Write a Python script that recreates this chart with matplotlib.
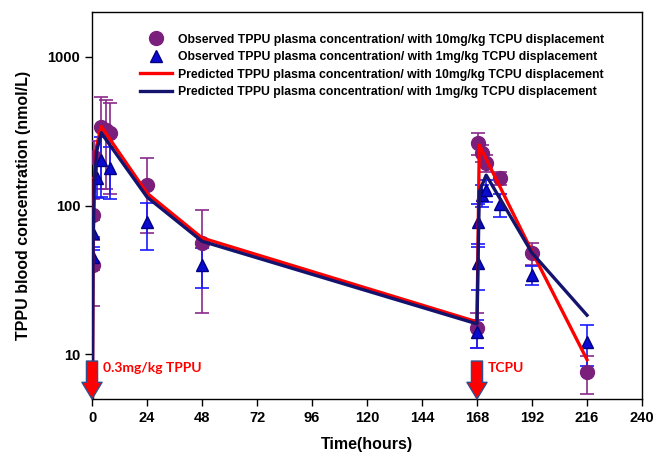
import matplotlib
matplotlib.use("Agg")
import matplotlib.pyplot as plt
from matplotlib.lines import Line2D
from matplotlib.ticker import NullLocator, FixedLocator, FixedFormatter

plt.rcParams['font.family'] = ['Liberation Sans', 'DejaVu Sans']
plt.rcParams['font.weight'] = 'bold'

# observed, 10 mg/kg TCPU displacement (purple circles)
t_obs10 = [0.25, 0.5, 1, 4, 6, 8, 24, 48, 168, 168.5, 170, 172, 178, 192, 216]
c_obs10 = [40, 86, 212, 335, 320, 305, 137, 56, 15, 262, 225, 193, 152, 48, 7.6]
e_obs10 = [19, 25, 60, 205, 190, 185, 72, 37, 4, 45, 30, 25, 15, 8, 2.2]

# observed, 1 mg/kg TCPU displacement (blue triangles)
t_obs1 = [0.25, 0.5, 2, 4, 8, 24, 48, 168, 168.25, 168.5, 170, 172, 178, 192, 216]
c_obs1 = [45, 65, 153, 202, 179, 77, 40, 14, 41, 78, 118, 127, 102, 34, 12]
e_obs1 = [8, 15, 40, 88, 68, 27, 12, 3, 14, 25, 20, 22, 18, 5, 3.7]

# predicted curves
t_pred10 = [0, 0.5, 1, 2, 4, 24, 48, 168, 169, 192, 216]
c_pred10 = [1, 60, 150, 250, 340, 121, 60.5, 16.5, 255, 49, 9.2]
t_pred1 = [0, 0.5, 1, 2, 4, 24, 48, 168, 169, 172, 192, 216]
c_pred1 = [1, 55, 135, 230, 308, 114, 57.5, 16, 124, 160, 48, 18.3]

dose_times = [0, 168]
dose_labels = ["0.3mg/kg TPPU", "TCPU"]

x_ticks = [0, 24, 48, 72, 96, 120, 144, 168, 192, 216, 240]
y_ticks = [10, 100, 1000]

labels = ['Observed TPPU plasma concentration/ with 10mg/kg TCPU displacement',
          'Observed TPPU plasma concentration/ with 1mg/kg TCPU displacement',
          'Predicted TPPU plasma concentration/ with 10mg/kg TCPU displacement',
          'Predicted TPPU plasma concentration/ with 1mg/kg TCPU displacement']

fig = plt.figure(figsize=(6.56, 4.62), dpi=100)
ax = fig.add_axes([92 / 656, 1 - 399 / 462, 550 / 656, 387 / 462])
ax.set_yscale('log')

purple = '#7b1f7d'
blue = '#0a0ad0'
red = '#ff0000'
navy = '#14146e'

ax.errorbar(t_obs10, c_obs10, yerr=e_obs10, fmt='o', ms=10, color=purple,
            mfc=purple, mec=purple, ecolor='#8a2a8a', elinewidth=1.2,
            capsize=5, capthick=1.2, zorder=3)
ax.errorbar(t_obs1, c_obs1, yerr=e_obs1, fmt='^', ms=9, color=blue,
            mfc=blue, mec='#000080', ecolor='#1a1aff', elinewidth=1.2,
            capsize=5, capthick=1.2, zorder=3)
ax.plot(t_pred10, c_pred10, color=red, lw=2.4, zorder=4)
ax.plot(t_pred1, c_pred1, color=navy, lw=2.4, zorder=4)

ax.set_xlim(0, 240)
ax.set_ylim(5, 2000)
ax.xaxis.set_major_locator(FixedLocator(x_ticks))
ax.yaxis.set_major_locator(FixedLocator(y_ticks))
ax.yaxis.set_major_formatter(FixedFormatter([str(v) for v in y_ticks]))
ax.yaxis.set_minor_locator(NullLocator())
ax.tick_params(direction='out', length=5, width=1, labelsize=10.5,
               top=False, right=False)
for lab in ax.get_xticklabels() + ax.get_yticklabels():
    lab.set_fontweight('bold')
for sp in ax.spines.values():
    sp.set_linewidth(1)

ax.set_xlabel('Time(hours)', fontsize=11.5, fontweight='bold', labelpad=9)
ax.set_ylabel('TPPU blood concentration (nmol/L)', fontsize=11.5,
              fontweight='bold', labelpad=12)

# dose arrows
for t, lab in zip(dose_times, dose_labels):
    ax.annotate('', xy=(t, 5.0), xytext=(t, 9.0), annotation_clip=False,
                arrowprops=dict(arrowstyle='simple,head_length=1.2,head_width=1.45,tail_width=0.8',
                                mutation_scale=10, fc=red, ec='#2f4f8f', lw=1,
                                shrinkA=0, shrinkB=0), zorder=5)
    ax.text(t + 4.8, 8.05, lab, color=red, fontsize=10,
            fontweight='bold', family=['Lato', 'DejaVu Sans'],
            ha='left', va='center')

handles = [Line2D([], [], ls='none', marker='o', ms=10, mfc=purple, mec=purple),
           Line2D([], [], ls='none', marker='^', ms=9, mfc=blue, mec='#000080'),
           Line2D([], [], color=red, lw=2.4),
           Line2D([], [], color=navy, lw=2.4)]
leg = ax.legend(handles, labels, loc='upper left', bbox_to_anchor=(0.088, 0.944),
                frameon=False, fontsize=8.8, handlelength=2.6, handletextpad=0.5,
                labelspacing=0.45, borderpad=0, borderaxespad=0)
for txt in leg.get_texts():
    txt.set_fontweight('bold')

fig.savefig('out.png', dpi=100)
